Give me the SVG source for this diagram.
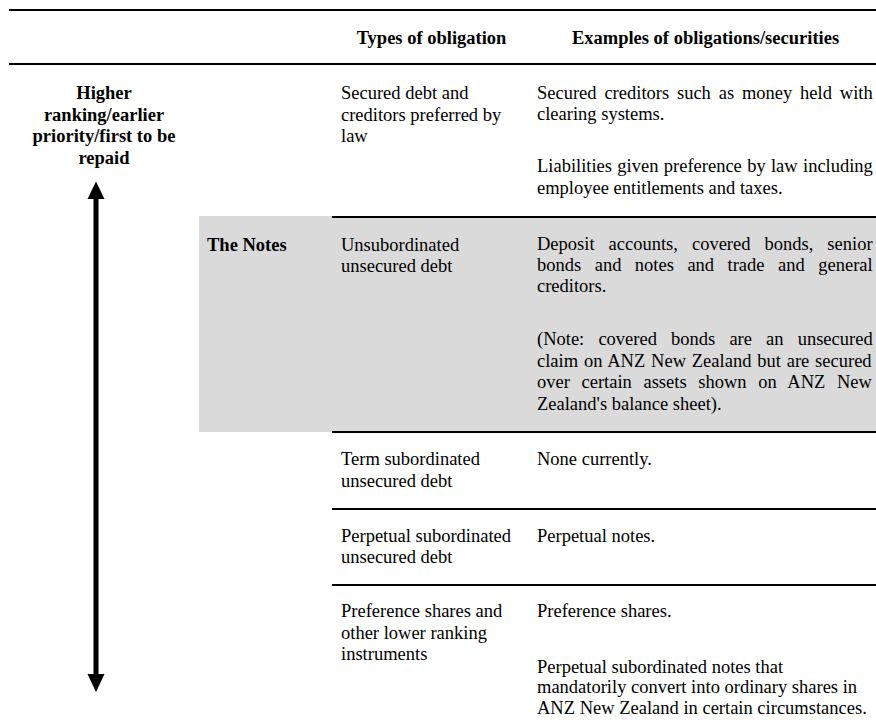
<svg xmlns="http://www.w3.org/2000/svg" width="876" height="728" viewBox="0 0 876 728">
<style>
.t{font-family:"Liberation Serif","Times New Roman",serif;font-size:18.5px;fill:#000}
.b{font-weight:bold}
.c{text-anchor:middle}
.rule{stroke:#000;stroke-width:2;fill:none}
</style>
<rect x="0" y="0" width="876" height="728" fill="#fff"/>
<g id="notes-band">
<rect x="199" y="216" width="677" height="216" fill="#dadada"/>
</g>
<g id="rules">
<line class="rule" x1="9" y1="10" x2="876" y2="10"/>
<line class="rule" x1="9" y1="64" x2="876" y2="64"/>
<line class="rule" x1="332" y1="217" x2="876" y2="217"/>
<line class="rule" x1="332" y1="432" x2="876" y2="432"/>
<line class="rule" x1="332" y1="509" x2="876" y2="509"/>
<line class="rule" x1="332" y1="585" x2="876" y2="585"/>
</g>
<g id="header">
<text class="t b c" x="431.5" y="44">Types of obligation</text>
<text class="t b c" x="705.5" y="44">Examples of obligations/securities</text>
</g>
<g id="ranking-label">
<text class="t b c" x="104" y="99">Higher</text>
<text class="t b c" x="104" y="120.5">ranking/earlier</text>
<text class="t b c" x="104" y="142">priority/first to be</text>
<text class="t b c" x="104" y="163.5">repaid</text>
</g>
<g id="connectors">
<rect x="93.5" y="198" width="5" height="477" fill="#000"/>
<polygon points="96,181.5 104.5,199 87.5,199" fill="#000"/>
<polygon points="87.5,674 104.5,674 96,692" fill="#000"/>
</g>
<g id="row-secured">
<text class="t" x="341" y="99">Secured debt and</text>
<text class="t" x="341" y="120.5">creditors preferred by</text>
<text class="t" x="341" y="142">law</text>
<text class="t" x="537" y="98.5" word-spacing="3.2">Secured creditors such as money held with</text>
<text class="t" x="537" y="120">clearing systems.</text>
<text class="t" x="537" y="172" word-spacing="0.7">Liabilities given preference by law including</text>
<text class="t" x="537" y="193.5">employee entitlements and taxes.</text>
</g>
<g id="row-notes">
<text class="t b" x="207" y="250.5">The Notes</text>
<text class="t" x="341" y="250.5">Unsubordinated</text>
<text class="t" x="341" y="271.8">unsecured debt</text>
<text class="t" x="537" y="250.3" word-spacing="9.4">Deposit accounts, covered bonds, senior</text>
<text class="t" x="537" y="271.3" word-spacing="8.85">bonds and notes and trade and general</text>
<text class="t" x="537" y="292">creditors.</text>
<text class="t" x="537" y="345" word-spacing="9.5">(Note: covered bonds are an unsecured</text>
<text class="t" x="537" y="366.5" word-spacing="1.2">claim on ANZ New Zealand but are secured</text>
<text class="t" x="537" y="388" word-spacing="7">over certain assets shown on ANZ New</text>
<text class="t" x="537" y="409.5">Zealand's balance sheet).</text>
</g>
<g id="row-term">
<text class="t" x="341" y="465">Term subordinated</text>
<text class="t" x="341" y="486.5">unsecured debt</text>
<text class="t" x="537" y="465">None currently.</text>
</g>
<g id="row-perpetual">
<text class="t" x="341" y="541.5">Perpetual subordinated</text>
<text class="t" x="341" y="563">unsecured debt</text>
<text class="t" x="537" y="541.5">Perpetual notes.</text>
</g>
<g id="row-preference">
<text class="t" x="341" y="617">Preference shares and</text>
<text class="t" x="341" y="638.5">other lower ranking</text>
<text class="t" x="341" y="660">instruments</text>
<text class="t" x="537" y="617">Preference shares.</text>
<text class="t" x="537" y="672.7">Perpetual subordinated notes that</text>
<text class="t" x="537" y="693.3">mandatorily convert into ordinary shares in</text>
<text class="t" x="537" y="714">ANZ New Zealand in certain circumstances.</text>
</g>
</svg>
